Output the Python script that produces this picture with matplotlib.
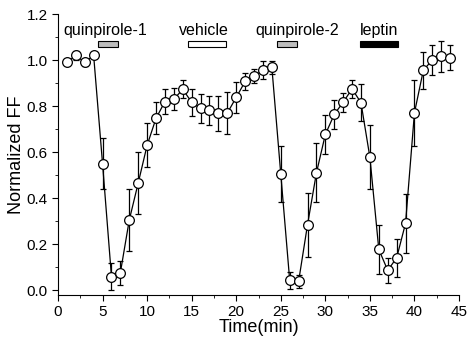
import matplotlib
matplotlib.use("Agg")
import matplotlib.pyplot as plt
from matplotlib.ticker import MultipleLocator

plt.rcParams["font.family"] = ["Liberation Sans", "DejaVu Sans"]

time_min = list(range(1, 45))
norm_ff = [0.99, 1.02, 0.99, 1.02, 0.55, 0.06, 0.077, 0.306, 0.466, 0.63,
           0.747, 0.82, 0.83, 0.873, 0.817, 0.79, 0.783, 0.77, 0.77, 0.838,
           0.907, 0.93, 0.956, 0.968, 0.505, 0.044, 0.039, 0.285, 0.51, 0.677,
           0.764, 0.817, 0.875, 0.815, 0.578, 0.178, 0.087, 0.141, 0.291, 0.771,
           0.956, 1.0, 1.016, 1.01]
ff_err = [0.0, 0.02, 0.015, 0.01, 0.11, 0.06, 0.052, 0.134, 0.134, 0.095,
          0.07, 0.054, 0.047, 0.039, 0.058, 0.063, 0.063, 0.076, 0.09, 0.066,
          0.036, 0.03, 0.039, 0.03, 0.12, 0.036, 0.027, 0.14, 0.128, 0.085,
          0.062, 0.041, 0.039, 0.08, 0.138, 0.108, 0.055, 0.084, 0.127, 0.143,
          0.081, 0.064, 0.067, 0.055]

# treatment bars (start/end in minutes) and label centres
treatments = ["quinpirole-1", "vehicle", "quinpirole-2", "leptin"]
treat_start = [4.5, 14.55, 24.6, 33.9]
treat_end = [6.7, 18.85, 26.8, 38.2]
treat_color = ["#bdbdbd", "white", "#bdbdbd", "black"]
label_x = [5.3, 16.4, 26.8, 36.0]

fig = plt.figure(figsize=(4.7, 3.46), dpi=100)
ax = fig.add_axes([0.1234, 0.1474, 0.8532, 0.8121])

ax.errorbar(time_min, norm_ff, yerr=ff_err, fmt="-o", color="black", lw=0.9,
            elinewidth=0.9, capsize=2.5, capthick=0.9, ms=7,
            mfc="white", mec="black", mew=0.9)

for name, s, e, c, lx in zip(treatments, treat_start, treat_end, treat_color, label_x):
    ax.bar((s + e) / 2, 0.027, width=e - s, bottom=1.055, color=c,
           edgecolor="black", linewidth=0.8)
    ax.text(lx, 1.128, name, ha="center", va="center", fontsize=11.5)

ax.set_xlim(0, 45)
ax.set_ylim(-0.02, 1.2)
ax.xaxis.set_major_locator(MultipleLocator(5))
ax.xaxis.set_minor_locator(MultipleLocator(2.5))
ax.yaxis.set_minor_locator(MultipleLocator(0.1))
ax.set_yticks([0.0, 0.2, 0.4, 0.6, 0.8, 1.0, 1.2])
ax.set_yticklabels(["0.0", "0.2", "0.4", "0.6", "0.8", "1.0", "1.2"])
ax.tick_params(which="major", direction="out", length=4, labelsize=11)
ax.tick_params(which="minor", direction="out", length=2.5)
ax.spines["top"].set_visible(False)
ax.spines["right"].set_visible(False)
ax.set_xlabel("Time(min)", fontsize=13, labelpad=0)
ax.set_ylabel("Normalized FF", fontsize=13, labelpad=1)

fig.savefig("out.png", dpi=100)
